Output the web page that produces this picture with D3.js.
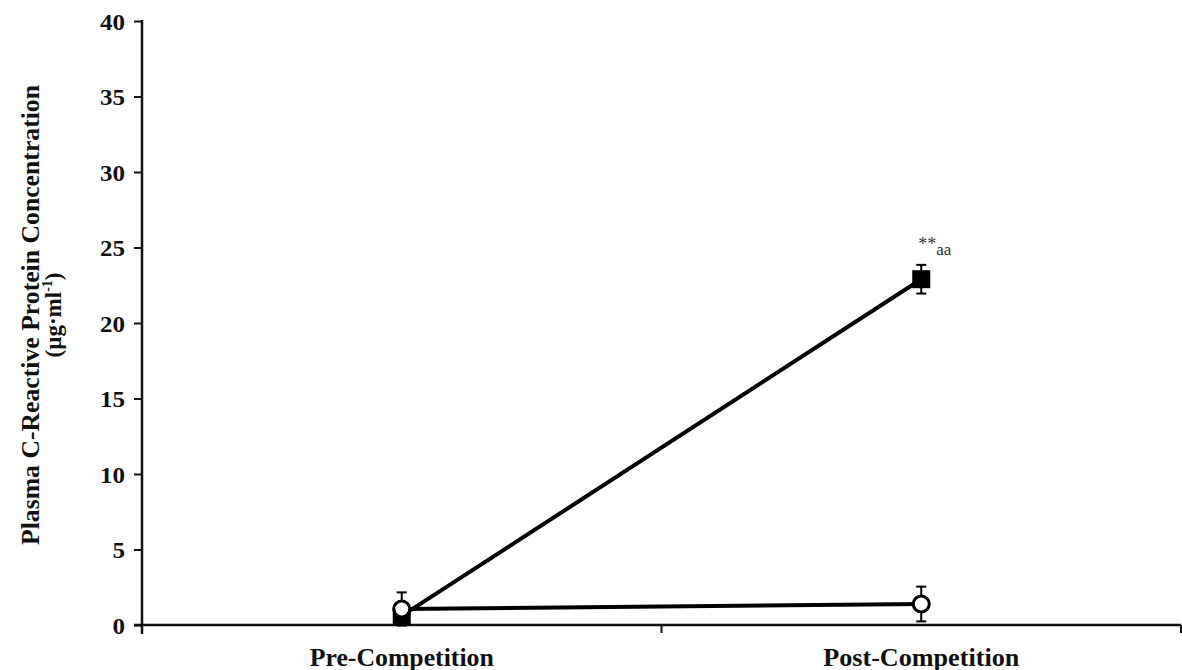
<!DOCTYPE html>
<html><head><meta charset="utf-8">
<script src="https://cdn.jsdelivr.net/npm/d3@7"></script>
<style>body{margin:0;background:#fff}svg{display:block}</style>
</head><body>
<svg id="c" width="1182" height="670"></svg>
<script>
const categories = ["Pre-Competition", "Post-Competition"];
const filledValues = [0.6, 22.9];
const filledErrors = [0.5, 0.95];
const openValues = [1.06, 1.39];
const openErrors = [1.1, 1.15];
const yTicks = [0, 5, 10, 15, 20, 25, 30, 35, 40];
const annotation = {cat: "Post-Competition", value: 22.9, stars: "**", letters: "aa"};

(function () {
const svg = d3.select("#c");
const mLeft = 142, mRight = 1181, mTop = 21, mBottom = 625;
const x = d3.scaleBand().domain(categories).range([mLeft, mRight]);
const y = d3.scaleLinear().domain([0, 40]).range([mBottom, mTop]);
const cx = c => x(c) + x.bandwidth() / 2;
const serif = "'Liberation Serif','Times New Roman',serif";

// axes
const yAxis = svg.append("g").attr("transform", `translate(${mLeft},0)`)
  .call(d3.axisLeft(y).tickValues(yTicks).tickSize(8).tickSizeOuter(0).tickPadding(9));
yAxis.select(".domain").attr("stroke", "#111").attr("stroke-width", 2.5).attr("d", `M0,${mBottom+9}V${mTop-1}`);
yAxis.selectAll(".tick line").attr("stroke", "#111").attr("stroke-width", 2);
yAxis.selectAll(".tick text").attr("font-family", serif).attr("font-weight", "bold")
  .attr("font-size", 24).attr("fill", "#111").attr("dy", "0.34em")
  .attr("textLength", d => String(d).length * 12.5).attr("lengthAdjust", "spacingAndGlyphs");

const xAxis = svg.append("g").attr("transform", `translate(0,${mBottom})`)
  .call(d3.axisBottom(x).tickValues([]).tickSizeOuter(0));
xAxis.select(".domain").attr("stroke", "#111").attr("stroke-width", 2.5).attr("d", `M${mLeft-8},0H${mRight}`);
const bounds = [mLeft, ...categories.slice(1).map(c => x(c)), mRight];
xAxis.selectAll("line.bt").data(bounds).enter().append("line").attr("class", "bt")
  .attr("x1", d => d).attr("x2", d => d).attr("y1", 0).attr("y2", 8)
  .attr("stroke", "#111").attr("stroke-width", 2);
xAxis.selectAll("text.cl").data(categories).enter().append("text").attr("class", "cl")
  .attr("x", d => cx(d)).attr("y", 41).attr("text-anchor", "middle")
  .attr("font-family", serif).attr("font-weight", "bold").attr("font-size", 25)
  .attr("fill", "#111")
  .attr("textLength", d => d.startsWith("Pre") ? 184 : 196).attr("lengthAdjust", "spacingAndGlyphs")
  .text(d => d);

// y-axis title
const yt = svg.append("g").attr("transform", "translate(0,315) rotate(-90)");
yt.append("text").attr("x", 0).attr("y", 39).attr("text-anchor", "middle")
  .attr("font-family", serif).attr("font-weight", "bold").attr("font-size", 26).attr("fill", "#111")
  .attr("textLength", 460).attr("lengthAdjust", "spacingAndGlyphs")
  .text("Plasma C-Reactive Protein Concentration");
const t2 = yt.append("text").attr("x", 0).attr("y", 61).attr("text-anchor", "middle")
  .attr("font-family", serif).attr("font-weight", "bold").attr("font-size", 23).attr("fill", "#111");
t2.append("tspan").text("(µg·ml");
t2.append("tspan").attr("dy", -9).attr("font-size", 14).text("-1");
t2.append("tspan").attr("dy", 9).text(")");

// lines
const line = d3.line().x(d => cx(d.c)).y(d => y(d.v));
const filled = categories.map((c, i) => ({c, v: filledValues[i], e: filledErrors[i]}));
const open = categories.map((c, i) => ({c, v: openValues[i], e: openErrors[i]}));

svg.append("path").datum(filled).attr("d", line).attr("fill", "none").attr("stroke", "#000").attr("stroke-width", 4);
svg.append("path").datum(open).attr("d", line).attr("fill", "none").attr("stroke", "#000").attr("stroke-width", 4);

function errBars(data) {
  const g = svg.append("g");
  data.forEach(d => {
    const X = cx(d.c);
    g.append("line").attr("x1", X).attr("x2", X).attr("y1", y(d.v + d.e)).attr("y2", y(d.v - d.e))
      .attr("stroke", "#000").attr("stroke-width", 2);
    [d.v + d.e, d.v - d.e].forEach(v => g.append("line").attr("x1", X - 5).attr("x2", X + 5)
      .attr("y1", y(v)).attr("y2", y(v)).attr("stroke", "#000").attr("stroke-width", 2));
  });
}
errBars(filled);
svg.append("g").selectAll("rect").data(filled).enter().append("rect")
  .attr("x", d => cx(d.c) - 9).attr("y", d => y(d.v) - 9).attr("width", 18).attr("height", 18)
  .attr("fill", "#000");
errBars(open);
svg.append("g").selectAll("circle").data(open).enter().append("circle")
  .attr("cx", d => cx(d.c)).attr("cy", d => y(d.v)).attr("r", 8)
  .attr("fill", "#fff").attr("stroke", "#000").attr("stroke-width", 3);

// annotation
const ax = cx(annotation.cat) - 3, ay = y(annotation.value) - 29;
const at = svg.append("text").attr("x", ax).attr("y", ay).attr("font-family", serif)
  .attr("font-size", 18).attr("fill", "#333");
at.append("tspan").text(annotation.stars);
at.append("tspan").attr("dy", 5).attr("font-size", 17).text(annotation.letters);
})();
</script>
</body></html>
